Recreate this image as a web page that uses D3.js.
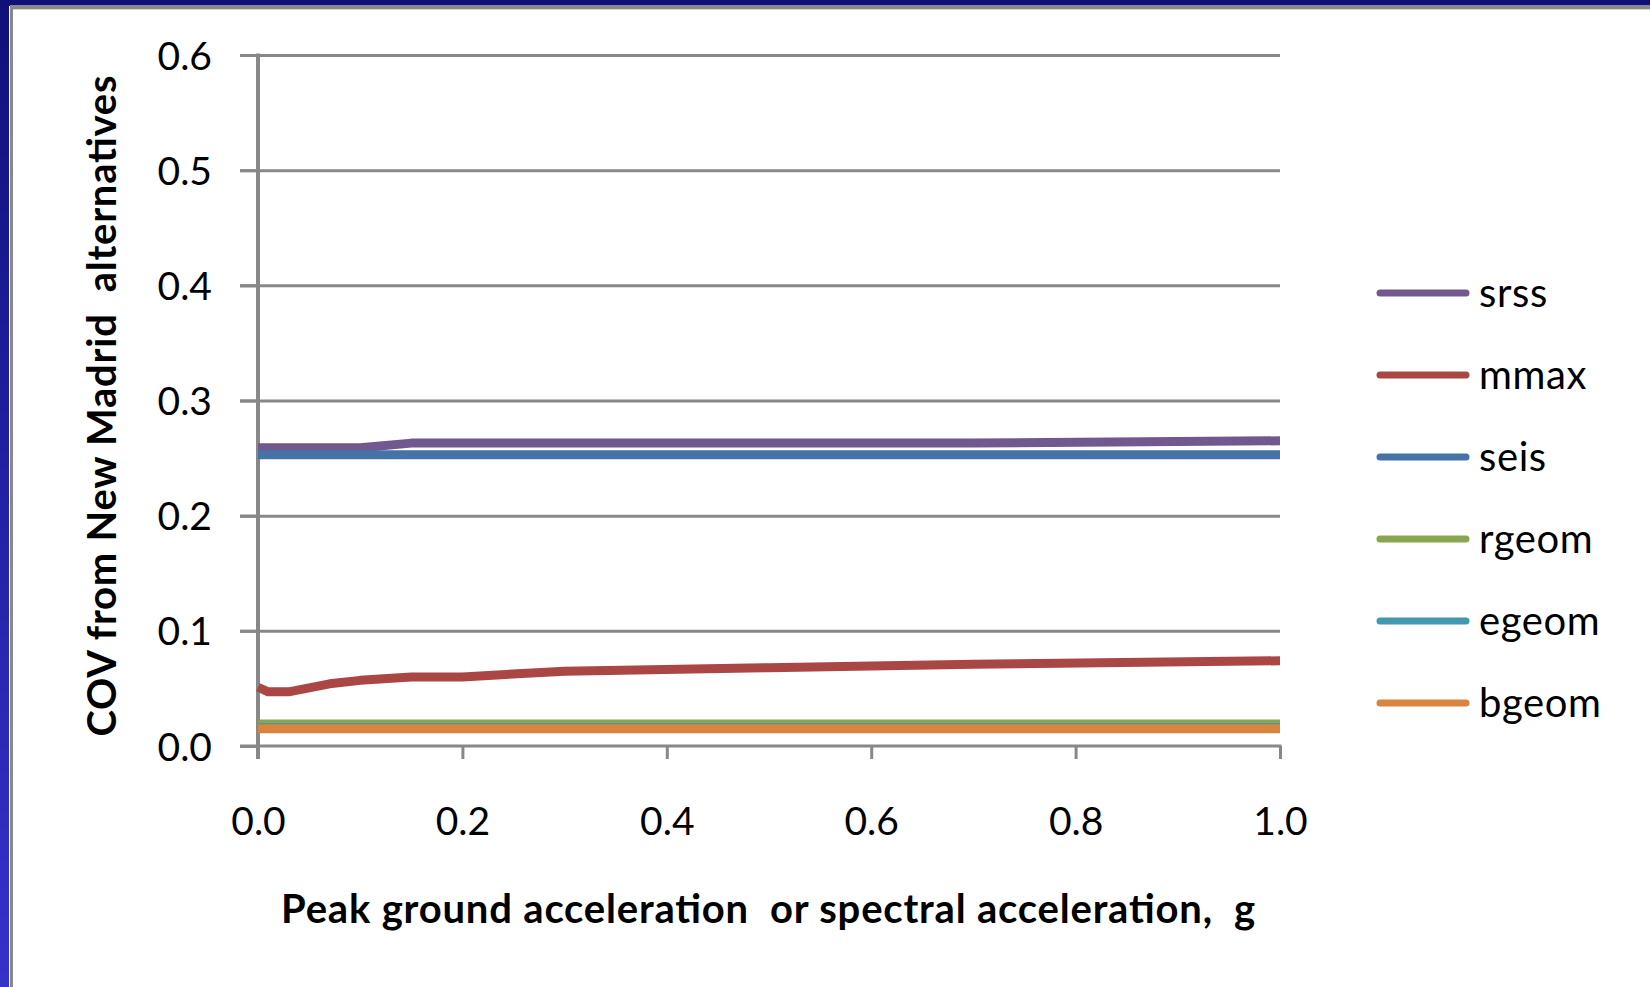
<!DOCTYPE html>
<html>
<head>
<meta charset="utf-8">
<script src="https://cdn.jsdelivr.net/npm/d3@7"></script>
<style>
  html, body { margin: 0; padding: 0; background: #fff; }
  svg { display: block; }
  text { font-family: Lato, "Open Sans", sans-serif; fill: #000; }
</style>
</head>
<body>
<svg id="chart" width="1650" height="987"></svg>
<script>
// Acceleration levels (g) at which the COV was evaluated
const accel = [0.0, 0.01, 0.03, 0.07, 0.1, 0.15, 0.2, 0.3, 0.5, 0.7, 1.0];

// Coefficient of variation contributed by each New Madrid alternative
const srss  = [0.259, 0.259, 0.259, 0.259, 0.259, 0.263, 0.263, 0.263, 0.263, 0.263, 0.265];
const mmax  = [0.051, 0.047, 0.047, 0.054, 0.057, 0.060, 0.060, 0.065, 0.068, 0.071, 0.074];
const seis  = [0.253, 0.253, 0.253, 0.253, 0.253, 0.253, 0.253, 0.253, 0.253, 0.253, 0.253];
const rgeom = [0.019, 0.019, 0.019, 0.019, 0.019, 0.019, 0.019, 0.019, 0.019, 0.019, 0.019];
const egeom = [0.016, 0.016, 0.016, 0.016, 0.016, 0.016, 0.016, 0.016, 0.016, 0.016, 0.016];
const bgeom = [0.015, 0.015, 0.015, 0.015, 0.015, 0.015, 0.015, 0.015, 0.015, 0.015, 0.015];

const seriesNames  = ["srss", "mmax", "seis", "rgeom", "egeom", "bgeom"];
const seriesValues = [srss, mmax, seis, rgeom, egeom, bgeom];
const seriesColors = ["#71588F", "#AA4643", "#4572A7", "#89A54E", "#4198AF", "#DB843D"];

const xTicks = [0.0, 0.2, 0.4, 0.6, 0.8, 1.0];
const yTicks = [0.0, 0.1, 0.2, 0.3, 0.4, 0.5, 0.6];

const xTitle = "Peak ground acceleration  or spectral acceleration,  g";
const yTitle = "COV from New Madrid  alternatives";

const svg = d3.select("#chart");

// Slide frame: navy band on top and left, thin grey rule inside it
const defs = svg.append("defs");
const grad = defs.append("linearGradient")
  .attr("id", "frameGrad").attr("x1", 0).attr("y1", 0).attr("x2", 0).attr("y2", 1);
grad.append("stop").attr("offset", "0%").attr("stop-color", "#10107a");
grad.append("stop").attr("offset", "100%").attr("stop-color", "#3333cc");

svg.append("rect").attr("x", 0).attr("y", 0).attr("width", 1650).attr("height", 6).attr("fill", "#10107a");
svg.append("rect").attr("x", 0).attr("y", 0).attr("width", 9).attr("height", 987).attr("fill", "url(#frameGrad)");
svg.append("rect").attr("x", 10).attr("y", 5).attr("width", 1640).attr("height", 4).attr("fill", "#888");
svg.append("rect").attr("x", 10).attr("y", 5).attr("width", 3).attr("height", 982).attr("fill", "#888");
svg.append("rect").attr("x", 13).attr("y", 9).attr("width", 1637).attr("height", 1).attr("fill", "#d4d4d4");

// Scales
const x = d3.scaleLinear().domain([0, 1]).range([258, 1280]);
const y = d3.scaleLinear().domain([0, 0.6]).range([746, 55]);

// Horizontal gridlines with left tick stubs
const gridColor = "#888888";
svg.append("g")
  .attr("transform", `translate(${x(1)},0)`)
  .call(d3.axisLeft(y).tickValues(yTicks.filter(d => d > 0)).tickSize(x(1) - 240).tickFormat(""))
  .call(g => g.select(".domain").remove())
  .call(g => g.selectAll("line").attr("stroke", gridColor).attr("stroke-width", 3));

// Y axis line and labels
const yAxis = svg.append("g")
  .attr("transform", `translate(${x(0)},0)`)
  .call(d3.axisLeft(y).tickValues(yTicks).tickSize(18).tickPadding(28).tickFormat(d3.format(".1f")));
yAxis.select(".domain").attr("stroke", gridColor).attr("stroke-width", 4).attr("d", `M0,${y(0.6) - 1.5}V${y(0) + 13}`);
yAxis.selectAll("line").attr("stroke", gridColor).attr("stroke-width", 3);
yAxis.selectAll("text").attr("font-size", 39).attr("font-family", "Lato").attr("fill", "#000").attr("dy", "0.36em");

// X axis line, downward ticks and labels
const xAxis = svg.append("g")
  .attr("transform", `translate(0,${y(0)})`)
  .call(d3.axisBottom(x).tickValues(xTicks).tickSize(13).tickPadding(48).tickFormat(d3.format(".1f")));
xAxis.select(".domain").attr("stroke", gridColor).attr("stroke-width", 3).attr("d", `M${240},0H${x(1) + 1.5}`);
xAxis.selectAll("line").attr("stroke", gridColor).attr("stroke-width", 3);
xAxis.selectAll("text").attr("font-size", 39).attr("font-family", "Lato").attr("fill", "#000");

// Series lines
const line = d3.line()
  .x((d, i) => x(accel[i]))
  .y(d => y(d));

svg.append("g").selectAll("path")
  .data(seriesValues)
  .join("path")
  .attr("d", d => line(d))
  .attr("fill", "none")
  .attr("stroke", (d, i) => seriesColors[i])
  .attr("stroke-width", 9)
  .attr("stroke-linejoin", "round");

// Legend
const legend = svg.append("g");
const legendY = d3.scalePoint().domain(seriesNames).range([293, 703]);
seriesNames.forEach((name, i) => {
  const ly = legendY(name);
  legend.append("line")
    .attr("x1", 1380).attr("x2", 1466).attr("y1", ly).attr("y2", ly)
    .attr("stroke", seriesColors[i]).attr("stroke-width", 7).attr("stroke-linecap", "round");
  legend.append("text")
    .attr("x", 1479).attr("y", ly).attr("dy", "0.35em")
    .attr("font-size", 40).attr("letter-spacing", 0.6).text(name);
});

// Axis titles
svg.append("text")
  .attr("x", 768).attr("y", 923)
  .attr("text-anchor", "middle")
  .attr("font-size", 40).attr("font-weight", "bold")
  .attr("textLength", 974).attr("lengthAdjust", "spacing")
  .style("white-space", "pre")
  .text(xTitle);

svg.append("text")
  .attr("transform", "translate(116,406) rotate(-90)")
  .attr("text-anchor", "middle")
  .attr("font-size", 40).attr("font-weight", "bold")
  .attr("textLength", 661).attr("lengthAdjust", "spacing")
  .style("white-space", "pre")
  .text(yTitle);
</script>
</body>
</html>
